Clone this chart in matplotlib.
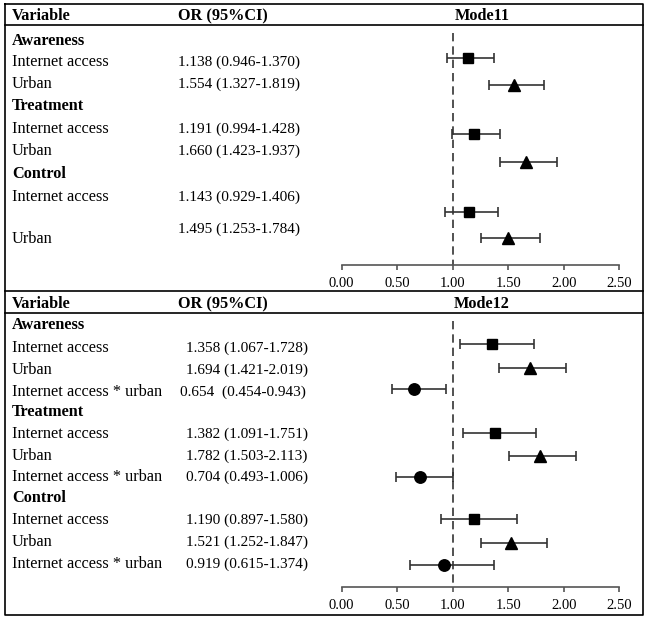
import matplotlib
matplotlib.use('Agg')
import matplotlib.pyplot as plt

plt.rcParams['font.family'] = ['Liberation Serif', 'DejaVu Serif']

W, H = 652, 620

# Model 1 data
m1_groups = ['Awareness', 'Treatment', 'Control']
m1_labels = ['Internet access', 'Urban'] * 3
m1_or = [1.138, 1.554, 1.191, 1.660, 1.143, 1.495]
m1_lo = [0.946, 1.327, 0.994, 1.423, 0.929, 1.253]
m1_hi = [1.370, 1.819, 1.428, 1.937, 1.406, 1.784]
m1_text = ['1.138 (0.946-1.370)', '1.554 (1.327-1.819)',
           '1.191 (0.994-1.428)', '1.660 (1.423-1.937)',
           '1.143 (0.929-1.406)', '1.495 (1.253-1.784)']

# Model 2 data
m2_groups = ['Awareness', 'Treatment', 'Control']
m2_labels = ['Internet access', 'Urban', 'Internet access * urban'] * 3
m2_or = [1.358, 1.694, 0.654, 1.382, 1.782, 0.704, 1.190, 1.521, 0.919]
m2_lo = [1.067, 1.421, 0.454, 1.091, 1.503, 0.493, 0.897, 1.252, 0.615]
m2_hi = [1.728, 2.019, 0.943, 1.751, 2.113, 1.006, 1.580, 1.847, 1.374]
m2_text = ['1.358 (1.067-1.728)', '1.694 (1.421-2.019)', '0.654  (0.454-0.943)',
           '1.382 (1.091-1.751)', '1.782 (1.503-2.113)', '0.704 (0.493-1.006)',
           '1.190 (0.897-1.580)', '1.521 (1.252-1.847)', '0.919 (0.615-1.374)']

ticks = [0.0, 0.5, 1.0, 1.5, 2.0, 2.5]
tick_labels = ['0.00', '0.50', '1.00', '1.50', '2.00', '2.50']

# layout (pixel rows)
m1_group_y = [41, 106, 174]
m1_label_y = [62, 84, 129, 151, 197, 239]
m1_text_y = [62, 84, 129, 151, 197, 229]
m1_mark_y = [58, 85, 134, 162, 212, 238]
m2_group_y = [325, 412, 498]
m2_label_y = [348, 370, 392, 434, 456, 477, 520, 542, 564]
m2_text_x = [186, 186, 180, 186, 186, 186, 186, 186, 186]
m2_mark_y = [344, 368, 389, 433, 456, 477, 519, 543, 565]
markers2 = ['s', '^', 'o'] * 3
sizes = {'s': 10, '^': 11, 'o': 11}

fig = plt.figure(figsize=(W / 100, H / 100), dpi=100)
bg = fig.add_axes([0, 0, 1, 1])
bg.set_xlim(0, W)
bg.set_ylim(H, 0)
bg.axis('off')

# borders
bg.plot([5, 643, 643, 5, 5], [4, 4, 615, 615, 4], color='black', lw=1.2)
bg.plot([5, 643], [25, 25], color='black', lw=1.2)
bg.plot([5, 643], [291, 291], color='black', lw=1.2)
bg.plot([5, 643], [313, 313], color='black', lw=1.2)

fs = 11.7
fs_num = 11.0


def draw_panel(top, bottom, axis_y, title, head_y, groups, group_y,
               labels, label_y, texts, text_x, text_y, ors, los, his, mark_y, markers):
    bg.text(12, head_y, 'Variable', fontsize=fs, fontweight='bold', va='center')
    bg.text(178, head_y, 'OR (95%CI)', fontsize=fs, fontweight='bold', va='center')
    bg.text(482, head_y, title, fontsize=fs, fontweight='bold', va='center', ha='center')
    for g, y in zip(groups, group_y):
        bg.text(12, y, g, fontsize=fs, fontweight='bold', va='center')
    for lab, y in zip(labels, label_y):
        bg.text(12, y, lab, fontsize=fs, va='center')
    for t, x, y in zip(texts, text_x, text_y):
        bg.text(x, y, t, fontsize=fs_num, va='center')

    x0, x1 = 341.7, 619.3
    ax = fig.add_axes([x0 / W, 1 - bottom / H, (x1 - x0) / W, (bottom - top) / H])
    ax.set_xlim(0, 2.5)
    ax.set_ylim(bottom, top)
    ax.patch.set_alpha(0)
    for s in ['top', 'left', 'right']:
        ax.spines[s].set_visible(False)
    ax.spines['bottom'].set_position(('data', axis_y))
    ax.spines['bottom'].set_color('#555555')
    ax.spines['bottom'].set_linewidth(1.2)
    ax.set_yticks([])
    ax.set_xticks(ticks)
    ax.set_xticklabels(tick_labels)
    ax.tick_params(axis='x', direction='out', length=3.5, width=1.2, color='#555555',
                   labelsize=10.5, pad=5)
    ax.vlines(1.0, top + 8, axis_y, colors='#333333', linestyles=(0, (5, 3)), lw=1.2)
    for o, lo, hi, y, m in zip(ors, los, his, mark_y, markers):
        ax.errorbar(o, y, xerr=[[o - lo], [hi - o]], fmt=m, color='black',
                    ecolor='#333333', elinewidth=1.2, capsize=3.5, capthick=1.2,
                    markersize=sizes[m] * 0.75)
    return ax


draw_panel(25, 291, 265, 'Mode11', 16.5, m1_groups, m1_group_y,
           m1_labels, m1_label_y, m1_text, [178] * 6, m1_text_y,
           m1_or, m1_lo, m1_hi, m1_mark_y, ['s', '^'] * 3)
draw_panel(313, 615, 587, 'Mode12', 304, m2_groups, m2_group_y,
           m2_labels, m2_label_y, m2_text, m2_text_x, m2_label_y,
           m2_or, m2_lo, m2_hi, m2_mark_y, markers2)

fig.savefig('out.png', dpi=100)
